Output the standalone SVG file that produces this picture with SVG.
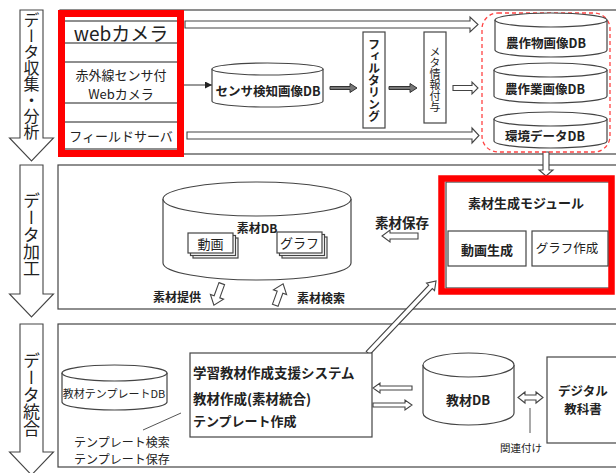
<svg xmlns="http://www.w3.org/2000/svg" width="616" height="473" viewBox="0 0 616 473">
<style>
.bx{fill:#fff;stroke:#444;stroke-width:1.2}
.ha{fill:#fff;stroke:#444;stroke-width:1.1}
.ga{fill:#777;stroke:#333;stroke-width:1}
.ln{fill:none;stroke:#555;stroke-width:1}
.red{fill:none;stroke:#f00;stroke-width:7}
.t{font-family:"Noto Sans CJK JP","Liberation Sans",sans-serif;fill:#222;text-anchor:middle;dominant-baseline:central}
.s{text-anchor:start}
.b{font-weight:bold}
.v{writing-mode:vertical-rl}
</style>
<defs>
<marker id="ah" viewBox="0 0 10 10" refX="10" refY="5" markerWidth="7" markerHeight="7" orient="auto" markerUnits="userSpaceOnUse"><path d="M0,0 L10,5 L0,10 Z" fill="#222"/></marker>
</defs>
<rect width="616" height="473" fill="#fff"/>

<g id="stages">
<polygon class="ha" points="20,10 43,10 43,138 53.5,138 31.5,161 9.5,138 20,138"/>
<polygon class="ha" points="20,165 43,165 43,294 53.5,294 31.5,317 9.5,294 20,294"/>
<polygon class="ha" points="20,324 43,324 43,452 53.5,452 31.5,475 9.5,452 20,452"/>
<text class="t v" x="31.5" y="76" font-size="16">データ収集・分析</text>
<text class="t v" x="31.5" y="235" font-size="17">データ加工</text>
<text class="t v" x="31.5" y="395" font-size="17">データ統合</text>
</g>

<g id="sections">
<rect class="bx" x="60" y="10" width="600" height="144"/>
<rect class="bx" x="58" y="165" width="600" height="144"/>
<rect class="bx" x="58" y="324" width="600" height="143"/>
</g>

<g id="connectors">
<polygon class="ha" points="185,21 470,21 470,17 478,24.5 470,32 470,28 185,28"/>
<polygon class="ha" points="187,132 472,132 472,128 479,135.5 472,143 472,139 187,139"/>
<polygon class="ha" points="453,85.5 472,85.5 472,82 478,88 472,94 472,90.5 453,90.5"/>
<polygon class="ga" points="330,86.5 350,86.5 350,83.5 357,88 350,92.5 350,89.5 330,89.5"/>
<polygon class="ga" points="389,86.5 410,86.5 410,83.5 417,88 410,92.5 410,89.5 389,89.5"/>
<line x1="184" y1="85" x2="212" y2="85" stroke="#333" stroke-width="1" marker-end="url(#ah)"/>
<polygon class="ha" points="543,152 549,152 549,170 553,170 546,176 539,170 543,170"/>
<polygon class="ha" points="418,233 390,233 390,230 382,236 390,242 390,239 418,239"/>
<polygon class="ha" transform="translate(218,294) rotate(20)" points="-3,-11 3,-11 3,3 7,3 0,12 -7,3 -3,3"/>
<polygon class="ha" transform="translate(279,295) rotate(20)" points="-3,11 3,11 3,-3 7,-3 0,-12 -7,-3 -3,-3"/>
<polygon class="ha" transform="translate(368,353) rotate(-46.6)" points="0,-2.5 91,-2.5 91,-5.5 99,0 91,5.5 91,2.5 0,2.5"/>
<polygon class="ha" points="412,386 380,386 380,383 373,388 380,393 380,390 412,390"/>
<polygon class="ha" points="373,403 405,403 405,400 412,405 405,410 405,407 373,407"/>
<polygon class="ha" points="518,397.5 525,392 525,395 536,395 536,392 543,397.5 536,403 536,400 525,400 525,403"/>
<line class="ln" x1="530" y1="408" x2="530" y2="433"/>
<line class="ln" x1="143" y1="430" x2="181" y2="413"/>
<line x1="228" y1="263" x2="238" y2="272" stroke="#999" stroke-width="0.8"/>
<line x1="315" y1="262" x2="321" y2="270" stroke="#999" stroke-width="0.8"/>
</g>

<g id="sources">
<rect class="bx" x="64" y="21" width="115" height="22"/>
<rect class="bx" x="64" y="62" width="115" height="41"/>
<rect class="bx" x="64" y="122" width="115" height="27"/>
<rect class="red" x="61.5" y="13.5" width="119" height="140"/>
<text class="t" x="121" y="32" font-size="19">webカメラ</text>
<text class="t" x="121" y="74.5" font-size="13">赤外線センサ付</text>
<text class="t" x="121" y="93" font-size="13">Webカメラ</text>
<text class="t" x="121" y="135" font-size="13">フィールドサーバ</text>
</g>

<g id="sensordb">
<path class="bx" d="M212,69 V101 A55.5,6 0 0 0 323,101 V69"/>
<ellipse class="bx" cx="267.5" cy="69" rx="55.5" ry="6"/>
<text class="t b" x="268" y="90" font-size="12.5">センサ検知画像DB</text>
</g>

<g id="filtering">
<rect class="bx" x="363" y="32" width="22" height="96"/>
<text class="t b v" x="374" y="80" font-size="12">フィルタリング</text>
</g>

<g id="meta">
<rect class="bx" x="424" y="32" width="22" height="91"/>
<text class="t v" x="435" y="79" font-size="11">メタ情報付与</text>
</g>

<g id="dbgroup">
<rect x="482" y="13" width="128" height="139" rx="16" fill="none" stroke="#f44" stroke-width="1.3" stroke-dasharray="4 3"/>
<path class="bx" d="M495,20 V50 A56,7 0 0 0 607,50 V20"/>
<ellipse class="bx" cx="551" cy="20" rx="56" ry="7"/>
<text class="t b" x="546" y="42" font-size="12.5">農作物画像DB</text>
<path class="bx" d="M494,70 V96 A56.5,7 0 0 0 607,96 V70"/>
<ellipse class="bx" cx="550.5" cy="70" rx="56.5" ry="7"/>
<text class="t b" x="545" y="88" font-size="12.5">農作業画像DB</text>
<path class="bx" d="M494,119 V141 A56.5,7 0 0 0 607,141 V119"/>
<ellipse class="bx" cx="550.5" cy="119" rx="56.5" ry="7"/>
<text class="t b" x="545" y="135" font-size="12.5">環境データDB</text>
</g>

<g id="sozaidb">
<path class="bx" d="M163,199 V263 A94,17 0 0 0 351,263 V199"/>
<ellipse class="bx" cx="257" cy="199" rx="94" ry="17"/>
<text class="t b" x="257" y="227" font-size="12">素材DB</text>
<rect class="bx" x="193" y="238" width="45" height="20" stroke-width="1"/>
<rect class="bx" x="190.5" y="235.5" width="45" height="20" stroke-width="1"/>
<rect class="bx" x="188" y="233" width="45" height="20" stroke-width="1"/>
<text class="t" x="210.5" y="243.5" font-size="13">動画</text>
<rect class="bx" x="282" y="237" width="45" height="21" stroke-width="1"/>
<rect class="bx" x="279.5" y="234.5" width="45" height="21" stroke-width="1"/>
<rect class="bx" x="277" y="232" width="45" height="21" stroke-width="1"/>
<text class="t" x="299.5" y="242.5" font-size="13">グラフ</text>
</g>

<g id="labels2">
<text class="t b" x="177" y="296" font-size="12">素材提供</text>
<text class="t b" x="321" y="297" font-size="12">素材検索</text>
<text class="t b" x="402" y="222" font-size="13.5">素材保存</text>
</g>

<g id="module">
<rect class="bx" x="446" y="182" width="165" height="106" stroke-width="1"/>
<rect x="441.5" y="178.5" width="170" height="113" fill="none" stroke="#f00" stroke-width="6.5"/>
<text class="t b" x="526" y="202" font-size="13">素材生成モジュール</text>
<rect class="bx" x="448" y="231" width="78" height="35"/>
<text class="t b" x="487" y="249" font-size="13">動画生成</text>
<rect class="bx" x="532" y="231" width="76" height="35"/>
<text class="t" x="567" y="247" font-size="12.5">グラフ作成</text>
</g>

<g id="templatedb">
<path class="bx" d="M62,373 V402 A52.5,8 0 0 0 167,402 V373"/>
<ellipse class="bx" cx="114.5" cy="373" rx="52.5" ry="8"/>
<text class="t" x="114" y="393" font-size="11">教材テンプレートDB</text>
<text class="t s" x="74" y="441" font-size="12">テンプレート検索</text>
<text class="t s" x="74" y="458" font-size="12">テンプレート保存</text>
</g>

<g id="system">
<rect class="bx" x="190" y="353" width="182" height="84"/>
<text class="t b s" x="193" y="372" font-size="13.5">学習教材作成支援システム</text>
<text class="t b s" x="193" y="398" font-size="13.5">教材作成(素材統合)</text>
<text class="t b s" x="193" y="420" font-size="13">テンプレート作成</text>
</g>

<g id="kyozaidb">
<path class="bx" d="M423,365 V413 A45.5,12 0 0 0 514,413 V365"/>
<ellipse class="bx" cx="468.5" cy="365" rx="45.5" ry="12"/>
<text class="t b" x="468" y="399" font-size="13">教材DB</text>
<text class="t" x="521" y="447" font-size="10.5">関連付け</text>
</g>

<g id="textbook">
<rect class="bx" x="547" y="357" width="80" height="86"/>
<text class="t b" x="583" y="390" font-size="12.5">デジタル</text>
<text class="t b" x="583" y="408" font-size="12.5">教科書</text>
</g>
</svg>
